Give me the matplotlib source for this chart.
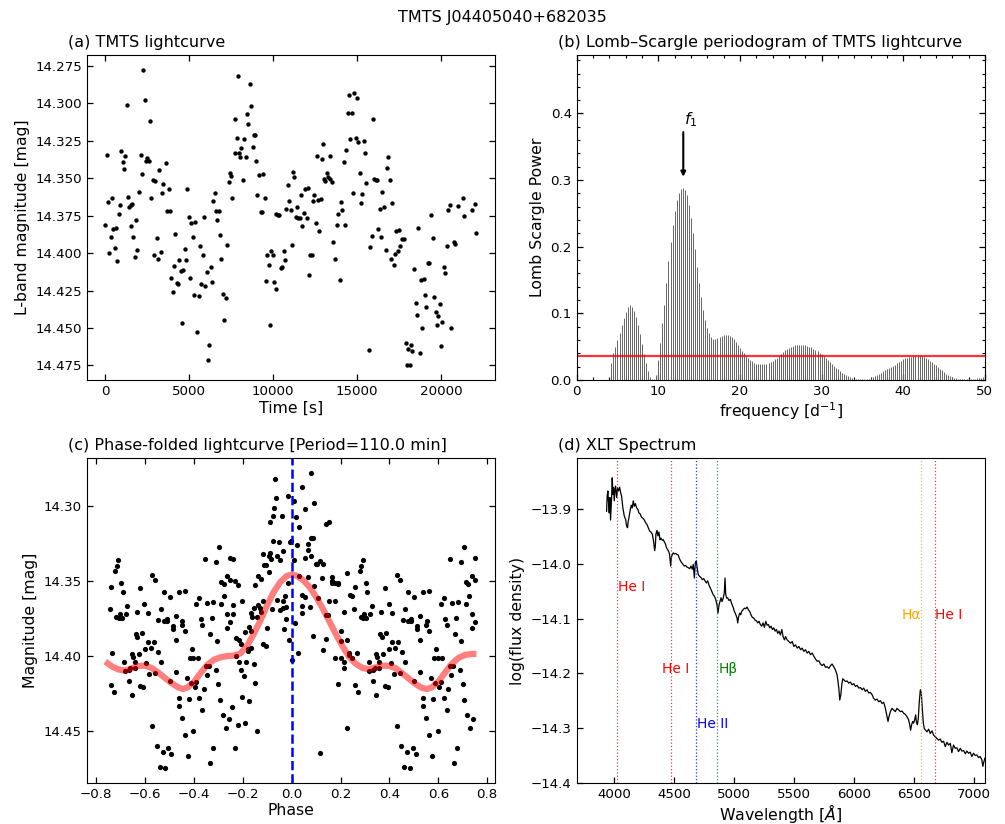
import numpy as np
import matplotlib
matplotlib.use('Agg')
import matplotlib.pyplot as plt
from matplotlib.ticker import MultipleLocator

# ---- (a) TMTS lightcurve ----
time_s = [0, 80, 160, 240, 318, 400, 477, 557, 636, 716, 795, 875, 954, 1034, 1113, 1193, 1272, 1352,
          1431, 1511, 1530, 1590, 1670, 1749, 1829, 1908, 2028, 2107, 2187, 2266, 2346, 2425, 2505, 2584,
          2664, 2743, 2823, 2902, 2982, 3062, 3141, 3221, 3300, 3380, 3459, 3618, 3698, 3777, 3857, 3936,
          4016, 4095, 4175, 4254, 4334, 4413, 4493, 4572, 4652, 4731, 4811, 4890, 4970, 5050, 5129, 5209,
          5288, 5368, 5447, 5566, 5646, 5725, 5805, 5884, 5964, 6044, 6123, 6203, 6282, 6362, 6441, 6521,
          6600, 6680, 6759, 6839, 6918, 6998, 7077, 7197, 7236, 7356, 7435, 7515, 7574, 7713, 7753, 7833,
          7892, 7952, 8031, 8111, 8230, 8290, 8389, 8449, 8528, 8608, 8688, 8787, 8867, 8926, 9006, 9045,
          9165, 9264, 9324, 9423, 9503, 9582, 9662, 9741, 9821, 9900, 9980, 10059, 10139, 10198, 10278,
          10357, 10437, 10536, 10616, 10696, 10755, 10855, 10954, 11053, 11133, 11172, 11252, 11332, 11411,
          11491, 11570, 11650, 11729, 11809, 11888, 11988, 12047, 12107, 12187, 12286, 12366, 12445, 12525,
          12604, 12664, 12743, 12823, 12902, 12982, 13041, 13101, 13200, 13280, 13359, 13399, 13478, 13558,
          13697, 13796, 13876, 13955, 14035, 14115, 14194, 14274, 14353, 14433, 14512, 14592, 14671, 14751,
          14830, 14910, 14990, 15069, 15149, 15228, 15308, 15387, 15467, 15546, 15705, 15785, 15864, 15944,
          16023, 16103, 16182, 16262, 16342, 16421, 16501, 16620, 16699, 16779, 16858, 16938, 17018, 17097,
          17176, 17256, 17336, 17415, 17495, 17574, 17654, 17813, 17892, 17972, 18051, 18131, 18210, 18290,
          18409, 18489, 18568, 18648, 18727, 18807, 18886, 18966, 19045, 19125, 19224, 19304, 19383, 19522,
          19602, 19682, 19761, 19841, 19920, 20000, 20079, 20159, 20238, 20358, 20437, 20517, 20596, 20755,
          20835, 20994, 21312, 21391, 21829, 22027, 22107]
mag = [14.381, 14.3345, 14.366, 14.400, 14.389, 14.3635, 14.384, 14.3965, 14.383, 14.405, 14.374, 14.368,
       14.3316, 14.339, 14.3437, 14.335, 14.301, 14.3626, 14.369, 14.368, 14.382, 14.3675, 14.389, 14.4028,
       14.378, 14.398, 14.3595, 14.3348, 14.3475, 14.2777, 14.298, 14.3383, 14.3365, 14.3383, 14.312,
       14.3633, 14.351, 14.401, 14.352, 14.390, 14.4037, 14.3444, 14.399, 14.360, 14.354, 14.340, 14.3718,
       14.357, 14.372, 14.4168, 14.4257, 14.4083, 14.387, 14.420, 14.4206, 14.4046, 14.412, 14.447, 14.411,
       14.397, 14.4043, 14.357, 14.3756, 14.4166, 14.380, 14.389, 14.428, 14.379, 14.453, 14.4289, 14.3954,
       14.4206, 14.401, 14.3756, 14.422, 14.4126, 14.4717, 14.4614, 14.4095, 14.419, 14.365, 14.3597,
       14.372, 14.3776, 14.372, 14.388, 14.4039, 14.4273, 14.4449, 14.430, 14.3945, 14.3526, 14.3464,
       14.3488, 14.3635, 14.333, 14.3107, 14.3234, 14.2817, 14.3334, 14.3357, 14.330, 14.3515, 14.324,
       14.3357, 14.3073, 14.3136, 14.2873, 14.3015, 14.3292, 14.3212, 14.321, 14.3388, 14.3613, 14.348,
       14.3727, 14.3727, 14.3473, 14.3633, 14.4188, 14.4012, 14.408, 14.448, 14.3983, 14.4015, 14.4193,
       14.424, 14.3738, 14.3745, 14.3747, 14.4101, 14.4095, 14.3985, 14.4043, 14.3704, 14.3548, 14.365,
       14.3711, 14.3947, 14.3457, 14.349, 14.3758, 14.3689, 14.3767, 14.3767, 14.3609, 14.382, 14.373,
       14.357, 14.3765, 14.3566, 14.4148, 14.4014, 14.4014, 14.3653, 14.3615, 14.3796, 14.3354, 14.3644,
       14.385, 14.3642, 14.3372, 14.3274, 14.3504, 14.3517, 14.3468, 14.349, 14.335, 14.3502, 14.3528,
       14.3923, 14.4037, 14.3809, 14.3742, 14.4179, 14.3658, 14.3709, 14.339, 14.3811, 14.3314, 14.3067,
       14.2942, 14.324, 14.3067, 14.3597, 14.2933, 14.3234, 14.2964, 14.3258, 14.3464, 14.3663, 14.3606,
       14.3252, 14.333, 14.3535, 14.4646, 14.3961, 14.3887, 14.3107, 14.3502, 14.351, 14.3515, 14.3836,
       14.3707, 14.389, 14.3593, 14.3689, 14.3979, 14.3432, 14.3359, 14.351, 14.4039, 14.3664, 14.4079,
       14.4005, 14.385, 14.3988, 14.3843, 14.395, 14.3905, 14.3907, 14.460, 14.4744, 14.4639, 14.4748,
       14.4614, 14.4654, 14.4106, 14.4336, 14.4414, 14.3834, 14.4666, 14.4179, 14.4503, 14.4173, 14.428,
       14.436, 14.4066, 14.4068, 14.3745, 14.390, 14.4295, 14.4393, 14.448, 14.4418, 14.4338, 14.4617,
       14.4458, 14.409, 14.4133, 14.3952, 14.3713, 14.3682, 14.4498, 14.3923, 14.3936, 14.3687, 14.3635,
       14.3753, 14.3711, 14.3671, 14.3867]

# ---- (b) Lomb-Scargle power, grid starts at 4.25 d^-1 with 0.25 d^-1 step ----
ls_fmin = 4.25
ls_df = 0.25
ls_power = [0.025, 0.040, 0.049, 0.060, 0.071, 0.082, 0.093, 0.102,
            0.109, 0.112, 0.110, 0.104, 0.095, 0.083, 0.069, 0.054,
            0.039, 0.025, 0.013, 0.005, 0.001, 0.001, 0.007, 0.030,
            0.055, 0.085, 0.112, 0.145, 0.178, 0.207, 0.232, 0.254,
            0.270, 0.280, 0.286, 0.288, 0.285, 0.277, 0.262, 0.243,
            0.220, 0.196, 0.170, 0.146, 0.124, 0.105, 0.090, 0.078,
            0.070, 0.065, 0.062, 0.062, 0.063, 0.064, 0.066, 0.067,
            0.0675, 0.0675, 0.066, 0.064, 0.061, 0.057, 0.053, 0.0485,
            0.044, 0.040, 0.036, 0.033, 0.030, 0.028, 0.026, 0.0245,
            0.0237, 0.0233, 0.0232, 0.0235, 0.024, 0.025, 0.0265, 0.0285,
            0.031, 0.0335, 0.036, 0.039, 0.042, 0.0445, 0.0465, 0.0485,
            0.050, 0.051, 0.052, 0.0523, 0.0525, 0.0525, 0.0523, 0.052,
            0.0512, 0.050, 0.049, 0.047, 0.0455, 0.0435, 0.041, 0.0385,
            0.036, 0.033, 0.030, 0.027, 0.0245, 0.021, 0.0185, 0.016,
            0.0135, 0.011, 0.009, 0.007, 0.0055, 0.004, 0.003, 0.002,
            0.0015, 0.001, 0.001, 0.001, 0.001, 0.0015, 0.002, 0.003,
            0.0045, 0.006, 0.0075, 0.009, 0.011, 0.013, 0.015, 0.0165,
            0.018, 0.0195, 0.021, 0.023, 0.025, 0.027, 0.029, 0.031,
            0.0325, 0.0335, 0.0345, 0.035, 0.0355, 0.036, 0.0362, 0.0362,
            0.036, 0.035, 0.0335, 0.032, 0.029, 0.0265, 0.0245, 0.022,
            0.0195, 0.017, 0.0145, 0.012, 0.0095, 0.0075, 0.0055, 0.004,
            0.003, 0.0022, 0.0018, 0.0015, 0.0015, 0.0015, 0.0015, 0.0015,
            0.0015, 0.0018, 0.002, 0.0025, 0.003, 0.0035, 0.004, 0.0045]
fap_level = 0.036
f1 = 13.06

# ---- (c) folding parameters and fitted model ----
period_min = 110.0
t_zero = 1738.0
fit_phase = [-0.7625, -0.7355, -0.708, -0.681, -0.654, -0.627, -0.600, -0.573, -0.546, -0.519, -0.492,
             -0.465, -0.445, -0.425, -0.398, -0.371, -0.344, -0.317, -0.290, -0.263, -0.236, -0.209,
             -0.182, -0.155, -0.128, -0.101, -0.074, -0.047, -0.020, 0.0, 0.0195, 0.0465, 0.0736, 0.1006,
             0.1277, 0.1548, 0.1818, 0.2089, 0.236, 0.263, 0.290, 0.317, 0.344, 0.371, 0.398, 0.425, 0.452,
             0.479, 0.506, 0.533, 0.554, 0.574, 0.601, 0.628, 0.655, 0.682, 0.709, 0.736, 0.756]
fit_mag = [14.4037, 14.407, 14.409, 14.4097, 14.4081, 14.4066, 14.4064, 14.408, 14.411, 14.4146, 14.418,
           14.4209, 14.422, 14.4209, 14.417, 14.411, 14.4057, 14.4024, 14.4008, 14.400, 14.3997, 14.3982,
           14.393, 14.3852, 14.3763, 14.3663, 14.3574, 14.3507, 14.3465, 14.3456, 14.3463, 14.3492, 14.354,
           14.3607, 14.3685, 14.377, 14.3857, 14.3937, 14.4008, 14.4053, 14.408, 14.4088, 14.4075, 14.4064,
           14.4066, 14.4081, 14.4115, 14.415, 14.4186, 14.4213, 14.422, 14.4209, 14.4169, 14.4109, 14.4053,
           14.4013, 14.3993, 14.3986, 14.3986]

# ---- (d) XLT spectrum ----
wave = [3936, 3941, 3947, 3953, 3958, 3964, 3969, 3978, 3983, 3989, 3994, 4000, 4006, 4011, 4020, 4028,
        4036, 4045, 4053, 4061, 4072, 4084, 4095, 4103, 4111, 4117, 4125, 4134, 4142, 4150, 4159, 4167,
        4176, 4187, 4198, 4206, 4217, 4228, 4240, 4251, 4262, 4273, 4284, 4295, 4306, 4318, 4329, 4337,
        4343, 4348, 4357, 4365, 4373, 4382, 4390, 4401, 4410, 4418, 4426, 4437, 4446, 4454, 4462, 4471,
        4476, 4485, 4493, 4501, 4513, 4524, 4535, 4543, 4552, 4563, 4574, 4585, 4596, 4607, 4618, 4630,
        4641, 4652, 4660, 4669, 4677, 4685, 4694, 4702, 4713, 4724, 4736, 4747, 4758, 4769, 4780, 4791,
        4802, 4814, 4825, 4836, 4847, 4858, 4866, 4875, 4883, 4892, 4900, 4911, 4919, 4925, 4931, 4939,
        4947, 4958, 4970, 4981, 4992, 5003, 5014, 5025, 5031, 5039, 5048, 5056, 5064, 5075, 5087, 5098,
        5109, 5120, 5131, 5142, 5153, 5165, 5176, 5187, 5198, 5209, 5220, 5231, 5243, 5254, 5265, 5276,
        5287, 5298, 5309, 5321, 5332, 5343, 5354, 5365, 5376, 5387, 5399, 5410, 5421, 5431, 5444, 5458,
        5472, 5486, 5500, 5514, 5528, 5542, 5556, 5569, 5583, 5597, 5611, 5625, 5639, 5653, 5667, 5681,
        5694, 5708, 5722, 5736, 5750, 5764, 5778, 5792, 5806, 5819, 5833, 5847, 5861, 5875, 5883, 5892,
        5900, 5908, 5917, 5931, 5944, 5958, 5972, 5986, 6000, 6014, 6028, 6042, 6056, 6069, 6083, 6097,
        6111, 6125, 6139, 6153, 6167, 6181, 6194, 6208, 6222, 6236, 6250, 6264, 6278, 6286, 6294, 6306,
        6319, 6333, 6347, 6361, 6375, 6389, 6403, 6417, 6431, 6444, 6458, 6467, 6475, 6483, 6492, 6500,
        6508, 6517, 6522, 6531, 6539, 6547, 6556, 6564, 6572, 6581, 6589, 6600, 6611, 6625, 6639, 6653,
        6667, 6681, 6694, 6708, 6722, 6736, 6750, 6764, 6778, 6792, 6806, 6819, 6833, 6847, 6861, 6875,
        6889, 6903, 6917, 6931, 6944, 6958, 6972, 6986, 7000, 7014, 7028, 7042, 7056, 7069, 7078, 7086,
        7095]
logflux = [-13.904, -13.876, -13.867, -13.891, -13.907, -13.879, -13.920, -13.879, -13.843, -13.873,
           -13.861, -13.885, -13.864, -13.858, -13.879, -13.861, -13.867, -13.860, -13.870, -13.876,
           -13.898, -13.913, -13.919, -13.931, -13.934, -13.922, -13.913, -13.901, -13.893, -13.898,
           -13.885, -13.895, -13.890, -13.898, -13.901, -13.907, -13.909, -13.915, -13.917, -13.920,
           -13.925, -13.928, -13.934, -13.940, -13.942, -13.946, -13.960, -13.976, -13.968, -13.946,
           -13.939, -13.949, -13.942, -13.956, -13.953, -13.957, -13.956, -13.960, -13.963, -13.971,
           -13.974, -13.977, -13.983, -14.004, -13.989, -13.983, -13.980, -13.982, -13.981, -13.983,
           -13.984, -13.990, -13.994, -13.998, -14.001, -14.004, -14.003, -14.006, -14.007, -14.009,
           -14.004, -14.010, -14.001, -14.026, -13.998, -13.995, -14.010, -14.020, -14.023, -14.025,
           -14.029, -14.027, -14.031, -14.035, -14.031, -14.039, -14.044, -14.050, -14.056, -14.059,
           -14.065, -14.075, -14.090, -14.075, -14.069, -14.062, -14.069, -14.062, -14.053, -14.026,
           -14.056, -14.063, -14.062, -14.067, -14.065, -14.073, -14.079, -14.087, -14.092, -14.099,
           -14.108, -14.096, -14.090, -14.093, -14.087, -14.084, -14.081, -14.082, -14.079, -14.084,
           -14.087, -14.093, -14.098, -14.099, -14.103, -14.104, -14.108, -14.105, -14.111, -14.114,
           -14.108, -14.116, -14.105, -14.112, -14.111, -14.117, -14.114, -14.120, -14.117, -14.123,
           -14.120, -14.127, -14.123, -14.130, -14.120, -14.133, -14.139, -14.133, -14.139, -14.142,
           -14.145, -14.142, -14.151, -14.148, -14.154, -14.151, -14.157, -14.154, -14.160, -14.157,
           -14.163, -14.160, -14.166, -14.163, -14.169, -14.174, -14.178, -14.177, -14.183, -14.186,
           -14.183, -14.189, -14.188, -14.191, -14.186, -14.183, -14.188, -14.194, -14.203, -14.227,
           -14.249, -14.239, -14.221, -14.210, -14.212, -14.215, -14.214, -14.218, -14.216, -14.221,
           -14.219, -14.224, -14.222, -14.227, -14.226, -14.230, -14.227, -14.233, -14.230, -14.236,
           -14.235, -14.239, -14.246, -14.249, -14.247, -14.252, -14.250, -14.255, -14.253, -14.264,
           -14.279, -14.288, -14.279, -14.270, -14.264, -14.267, -14.270, -14.264, -14.267, -14.270,
           -14.269, -14.273, -14.275, -14.279, -14.285, -14.294, -14.304, -14.294, -14.288, -14.291,
           -14.285, -14.276, -14.288, -14.294, -14.282, -14.252, -14.230, -14.236, -14.264, -14.291,
           -14.301, -14.304, -14.307, -14.302, -14.310, -14.305, -14.313, -14.316, -14.319, -14.322,
           -14.320, -14.326, -14.324, -14.334, -14.326, -14.331, -14.328, -14.345, -14.331, -14.337,
           -14.336, -14.343, -14.337, -14.342, -14.341, -14.347, -14.342, -14.346, -14.344, -14.352,
           -14.346, -14.350, -14.349, -14.354, -14.352, -14.358, -14.370, -14.362, -14.355]

line_names = ['He I', 'He I', 'He II', 'H\u03b2', 'H\u03b1', 'He I']
line_waves = [4026, 4471, 4686, 4861, 6563, 6678]
line_colors = ['red', 'red', 'blue', 'green', 'orange', 'red']
label_x = [4028, 4401, 4690, 4870, 6400, 6680]
label_y = [-14.05, -14.20, -14.30, -14.20, -14.10, -14.10]

TICK_FS = 9.6
LABEL_FS = 11.3
TITLE_FS = 11.5

plt.rcParams['font.family'] = ['DejaVu Sans']
plt.rcParams['mathtext.fontset'] = 'dejavusans'

fig, axes = plt.subplots(2, 2, figsize=(10.05, 8.24), dpi=100)
fig.subplots_adjust(left=0.0863, right=0.980, top=0.933, bottom=0.050, wspace=0.2, hspace=0.241)
fig.suptitle('TMTS J04405040+682035', fontsize=TITLE_FS, y=0.988)
ax_a, ax_b = axes[0]
ax_c, ax_d = axes[1]

def style(ax, all_sides=True):
    ax.tick_params(which='both', direction='in', labelsize=TICK_FS,
                   top=all_sides, right=all_sides)
    ax.tick_params(which='major', length=4.2, width=0.9)
    ax.tick_params(which='minor', length=2.4, width=0.8)

def title(ax, text):
    ax.set_title(text, loc='left', x=-0.045, fontsize=TITLE_FS)

# (a)
t = np.array(time_s, dtype=float)
m = np.array(mag)
ax_a.scatter(t, m, s=10, c='k', linewidths=0)
ax_a.invert_yaxis()
ax_a.yaxis.set_major_locator(MultipleLocator(0.025))
ax_a.set_xlabel('Time [s]', fontsize=LABEL_FS, labelpad=2)
ax_a.set_ylabel('L-band magnitude [mag]', fontsize=LABEL_FS)
title(ax_a, '(a) TMTS lightcurve')
style(ax_a)

# (b)
pw = np.array(ls_power)
freq = ls_fmin + ls_df * np.arange(len(pw))
ax_b.vlines(freq, 0, pw, color='#666666', lw=0.7)
ax_b.axhline(fap_level, color='red', lw=1.6, alpha=0.8)
ax_b.annotate('', xy=(f1, 0.305), xytext=(f1, 0.372),
              arrowprops=dict(arrowstyle='-|>', color='k', lw=1.5, mutation_scale=7,
                              shrinkA=0, shrinkB=0))
ax_b.text(13.2, 0.384, '$f_1$', fontsize=TITLE_FS)
ax_b.set_xlim(0, 50)
ax_b.set_ylim(0, 0.4875)
ax_b.xaxis.set_major_locator(MultipleLocator(10))
ax_b.xaxis.set_minor_locator(MultipleLocator(2))
ax_b.yaxis.set_major_locator(MultipleLocator(0.1))
ax_b.yaxis.set_minor_locator(MultipleLocator(0.02))
ax_b.set_xlabel('frequency [d$^{-1}$]', fontsize=LABEL_FS, labelpad=2)
ax_b.set_ylabel('Lomb Scargle Power', fontsize=LABEL_FS)
title(ax_b, '(b) Lomb\u2013Scargle periodogram of TMTS lightcurve')
style(ax_b)

# (c)
phase = ((t - t_zero) / (period_min * 60.0)) % 1.0
ph_plot = np.concatenate([phase[phase <= 0.75], phase[phase >= 0.25] - 1.0])
m_plot = np.concatenate([m[phase <= 0.75], m[phase >= 0.25]])
ax_c.scatter(ph_plot, m_plot, s=14, c='k', linewidths=0)
ax_c.plot(fit_phase, fit_mag, color='red', alpha=0.5, lw=4.5, solid_capstyle='butt')
ax_c.axvline(0, color='blue', ls='--', lw=1.8)
ax_c.invert_yaxis()
ax_c.xaxis.set_major_locator(MultipleLocator(0.2))
ax_c.yaxis.set_major_locator(MultipleLocator(0.05))
ax_c.set_xlabel('Phase', fontsize=LABEL_FS, labelpad=2)
ax_c.set_ylabel('Magnitude [mag]', fontsize=LABEL_FS)
title(ax_c, '(c) Phase-folded lightcurve [Period=%.1f min]' % period_min)
style(ax_c)

# (d)
ax_d.plot(wave, logflux, color='k', lw=0.9)
for name, w, col, lx, ly in zip(line_names, line_waves, line_colors, label_x, label_y):
    ax_d.axvline(w, color=col, ls=':', lw=0.9, alpha=0.8)
    ax_d.text(lx, ly, name, color=col, fontsize=9.9)
ax_d.set_xlim(3686, 7095)
ax_d.set_ylim(-14.4, -13.807)
ax_d.xaxis.set_major_locator(MultipleLocator(500))
ax_d.yaxis.set_major_locator(MultipleLocator(0.1))
ax_d.set_xlabel('Wavelength [$\\mathit{\u00c5}$]', fontsize=LABEL_FS, labelpad=1)
ax_d.set_ylabel('log(flux density)', fontsize=LABEL_FS)
title(ax_d, '(d) XLT Spectrum')
style(ax_d, all_sides=False)

fig.savefig('out.png', dpi=100)
